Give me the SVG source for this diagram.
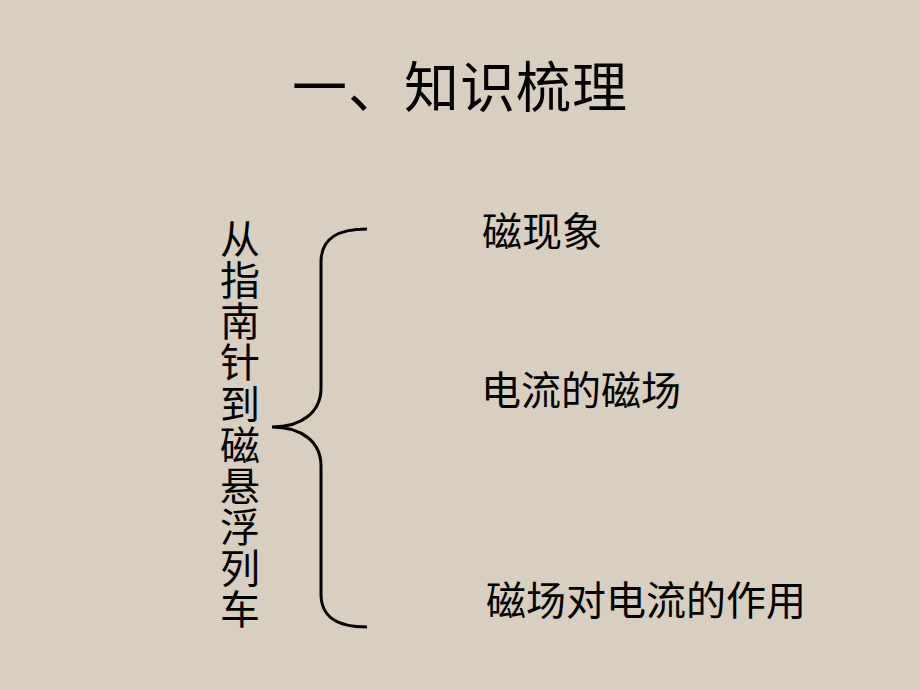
<svg xmlns="http://www.w3.org/2000/svg" width="920" height="690" viewBox="0 0 920 690">
<style>
.t{font-family:"Noto Sans CJK SC","Noto Sans CJK JP",sans-serif;fill:#000;}
.title{font-size:55px;letter-spacing:1px;}
.lbl{font-size:40px;}
.v{font-size:40px;writing-mode:vertical-rl;letter-spacing:1.1px;}
.brace{fill:none;stroke:#000;stroke-width:3;}
</style>
<rect width="920" height="690" fill="#d8cfc0"/>
<g id="title"><text class="t title" x="292" y="107">一、知识梳理</text></g>
<g id="root"><text class="t v" x="240" y="219">从指南针到磁悬浮列车</text></g>
<g id="connectors"><path class="brace" d="M367,229 C338,229 321,238 321,262 L321,388 C321,412 302,427 272,427 C302,427 321,442 321,466 L321,594 C321,618 338,627 367,627"/></g>
<g id="n1"><text class="t lbl" x="482" y="246">磁现象</text></g>
<g id="n2"><text class="t lbl" x="481" y="405">电流的磁场</text></g>
<g id="n3"><text class="t lbl" x="486" y="615">磁场对电流的作用</text></g>
</svg>
